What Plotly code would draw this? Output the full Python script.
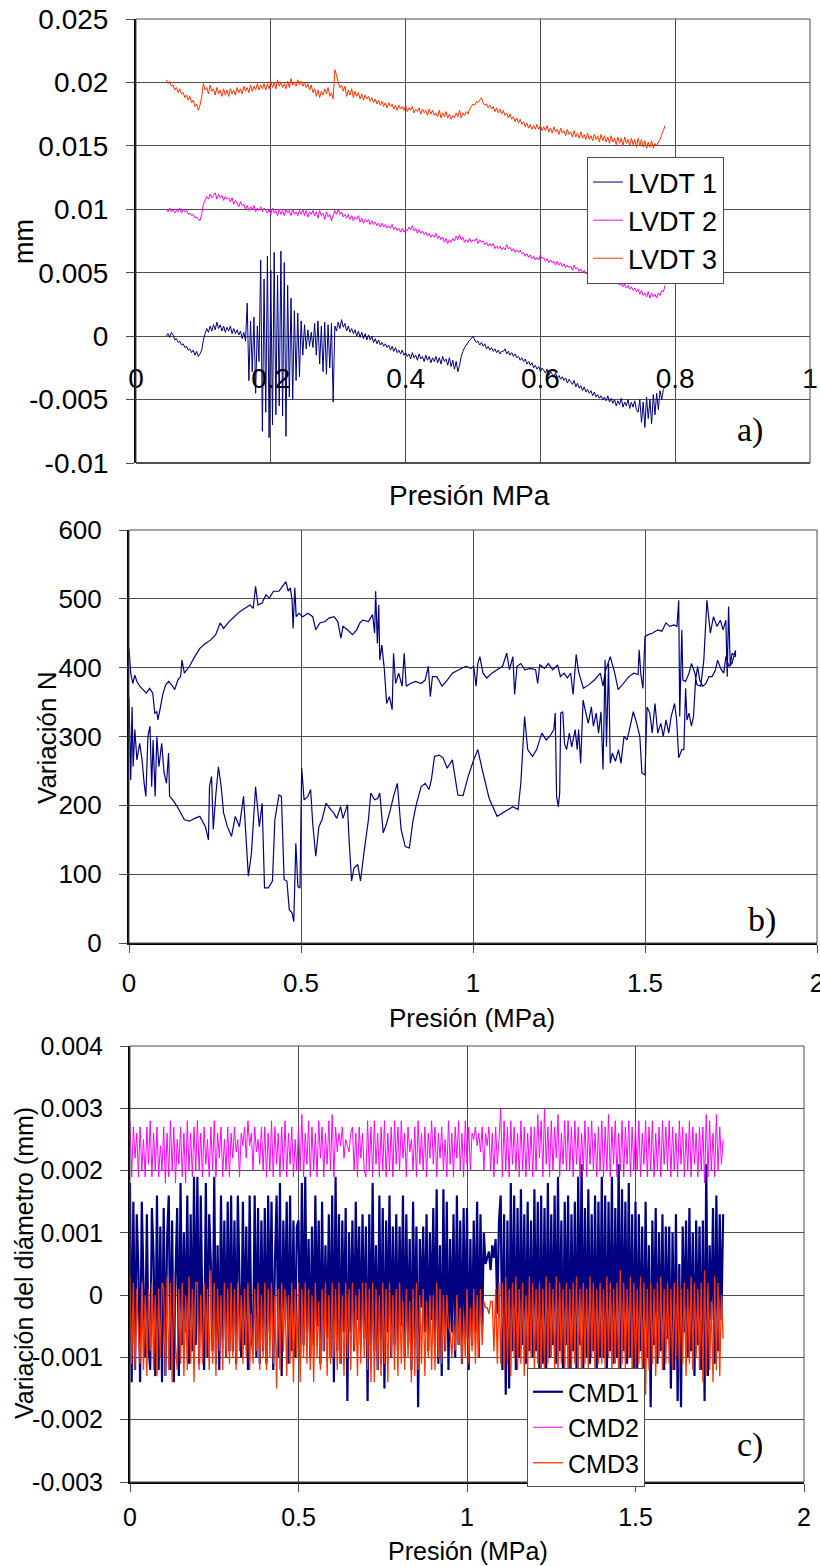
import numpy as np
import plotly.graph_objects as go

# ---------------- Panel a) LVDT displacement vs pressure (MPa); values read in micrometres ----------------
lvdt_p_start, lvdt_p_end = 0.045, 0.785
lvdt1_um = [0.0, 0.2, -0.1, 0.3, 0.1, -0.3, -0.2, -0.5, -0.4, -0.7, -0.6, -0.9, -0.8, -1.1, -1.0, -1.3, -1.1, -1.5, -1.2, -1.6,
            -1.4, -1.1, -0.3, 0.2, 0.6, 0.3, 0.8, 0.4, 0.9, 0.5, 1.1, 0.6, 0.9, 0.4, 0.8, 0.3, 0.7, 0.4, 0.8, 0.2,
            0.6, 0.2, 0.5, 0.1, 0.4, -0.2, 0.3, -0.4, 2.6, -3.5, 1.2, -2.8, 1.5, -4.5, 0.8, -2.0, 6.0, -7.5, 4.5, -6.0,
            6.3, -8.0, 5.2, -7.0, 6.6, -6.2, 4.8, -5.5, 6.7, -6.3, 5.8, -7.9, 4.0, -4.8, 3.0, -5.0, 2.0, -3.5, 1.8, -3.2,
            1.2, -1.5, 0.9, -1.0, 0.5, -0.8, 0.3, -0.9, 1.0, -1.5, 1.2, -2.2, 0.8, -2.8, 1.1, -3.0, 0.9, -2.5, 1.0, -5.2,
            0.8, 0.4, 1.1, 0.6, 1.3, 0.7, 1.0, 0.4, 0.8, 0.3, 0.6, 0.2, 0.5, 0.0, 0.4, -0.1, 0.3, -0.2, 0.2, -0.3,
            0.1, -0.3, 0.0, -0.5, -0.2, -0.6, -0.3, -0.7, -0.5, -0.8, -0.6, -0.9, -0.7, -1.1, -0.8, -1.2, -0.9, -1.3, -1.1, -1.4,
            -1.1, -1.5, -1.3, -1.6, -1.4, -1.8, -1.3, -1.7, -1.5, -1.9, -1.4, -1.8, -1.6, -2.0, -1.5, -1.9, -1.6, -2.1, -1.7, -2.0,
            -1.6, -2.1, -1.7, -2.2, -1.6, -2.0, -1.8, -2.3, -1.7, -2.4, -1.9, -2.6, -2.0, -2.8, -2.3, -1.6, -1.2, -0.9, -0.7, -0.5,
            -0.3, -0.2, 0.0, -0.3, -0.5, -0.4, -0.7, -0.5, -0.8, -0.6, -1.0, -0.8, -1.1, -0.9, -1.2, -1.0, -1.3, -1.1, -1.4, -1.2,
            -1.2, -1.0, -1.4, -1.2, -1.5, -1.3, -1.6, -1.4, -1.7, -1.6, -1.9, -1.7, -2.0, -1.8, -2.2, -2.0, -2.3, -2.1, -2.5, -2.3,
            -2.6, -2.4, -2.8, -2.5, -2.7, -2.9, -2.6, -3.1, -2.8, -3.0, -3.2, -2.9, -3.3, -3.1, -3.4, -3.2, -3.5, -3.3, -3.7, -3.4,
            -3.6, -3.8, -3.5, -4.0, -3.7, -4.1, -3.9, -4.3, -4.0, -4.4, -4.2, -4.5, -4.3, -4.7, -4.4, -4.8, -4.6, -4.9, -4.7, -5.0,
            -4.8, -5.1, -4.7, -5.2, -4.9, -5.3, -5.0, -5.5, -5.1, -5.4, -4.9, -5.6, -5.2, -5.5, -5.0, -5.7, -5.2, -5.6, -5.1, -5.8,
            -6.0, -5.0, -6.8, -5.2, -7.2, -4.8, -6.5, -5.0, -6.9, -4.6, -6.2, -4.5, -5.8, -4.3, -5.0, -4.2, -4.0]
lvdt2_um = [10.0, 9.8, 10.1, 9.8, 10.0, 9.7, 9.9, 9.8, 10.1, 9.7, 10.0, 9.8, 9.9, 9.6, 9.7, 9.5, 9.6, 9.3, 9.4, 9.2,
            9.1, 9.6, 10.4, 10.7, 11.0, 10.8, 11.2, 10.9, 11.1, 11.3, 10.8, 11.2, 10.9, 11.1, 10.7, 11.0, 10.8, 10.9, 10.6, 10.9,
            10.4, 10.7, 10.5, 10.2, 10.6, 10.3, 10.4, 10.0, 10.3, 9.9, 10.2, 10.0, 10.3, 9.8, 10.1, 9.9, 10.2, 9.8, 10.1, 9.9,
            9.7, 10.0, 9.6, 10.1, 9.7, 9.9, 9.5, 10.0, 9.6, 9.9, 9.5, 10.0, 9.7, 9.9, 9.5, 10.0, 9.6, 9.8, 9.5, 9.9,
            9.6, 10.0, 9.5, 9.9, 9.4, 9.8, 9.6, 9.9, 9.5, 9.8, 9.3, 9.9, 9.5, 9.7, 9.2, 9.8, 9.4, 9.6, 9.1, 9.5,
            9.9, 9.6, 10.0, 9.6, 9.8, 9.4, 9.6, 9.3, 9.6, 9.2, 9.5, 9.1, 9.4, 9.2, 9.5, 9.0, 9.3, 8.9, 9.2, 9.0,
            9.2, 8.8, 9.1, 8.8, 9.0, 8.7, 8.9, 8.6, 8.9, 8.6, 8.8, 8.5, 8.7, 8.5, 8.8, 8.4, 8.6, 8.3, 8.5, 8.2,
            8.5, 8.2, 8.4, 8.3, 8.6, 8.4, 8.7, 8.3, 8.5, 8.1, 8.4, 8.1, 8.3, 8.0, 8.2, 7.9, 8.1, 7.8, 8.0, 7.8,
            8.1, 7.7, 7.9, 7.6, 7.8, 7.4, 7.7, 7.3, 7.6, 7.4, 7.7, 7.5, 7.9, 7.6, 8.0, 7.6, 7.8, 7.4, 7.6, 7.4,
            7.7, 7.4, 7.6, 7.5, 7.7, 7.3, 7.6, 7.4, 7.5, 7.2, 7.4, 7.1, 7.3, 7.1, 7.3, 6.9, 7.1, 6.9, 7.1, 6.8,
            7.0, 6.8, 7.2, 6.9, 7.0, 6.7, 6.9, 6.6, 6.8, 6.6, 6.8, 6.5, 6.6, 6.3, 6.5, 6.2, 6.4, 6.1, 6.3, 6.0,
            6.2, 6.0, 6.4, 6.1, 6.2, 5.9, 6.1, 5.8, 6.0, 5.8, 5.9, 5.6, 5.9, 5.6, 5.8, 5.5, 5.7, 5.4, 5.6, 5.4,
            5.5, 5.2, 5.6, 5.3, 5.4, 5.1, 5.3, 5.0, 5.2, 4.9, 5.1, 4.8, 5.0, 4.7, 4.9, 4.6, 4.8, 4.6, 4.9, 4.5,
            4.7, 4.4, 4.6, 4.3, 4.5, 4.2, 4.4, 4.1, 4.3, 4.0, 4.2, 3.9, 4.1, 3.8, 4.0, 3.7, 3.9, 3.6, 3.8, 3.5,
            3.7, 3.3, 3.6, 3.2, 3.4, 3.1, 3.5, 3.0, 3.4, 3.1, 3.3, 3.0, 3.4, 3.2, 3.6, 3.5, 4.0]
lvdt3_um = [20.2, 19.9, 20.1, 19.7, 19.8, 19.4, 19.6, 19.2, 19.5, 19.1, 19.2, 18.8, 19.0, 18.6, 18.9, 18.4, 18.6, 18.1, 18.3, 17.8,
            18.2, 18.9, 19.9, 19.4, 19.6, 19.1, 19.8, 19.3, 19.5, 19.0, 19.6, 19.1, 19.4, 18.9, 19.5, 19.0, 19.4, 18.9, 19.5, 19.1,
            19.4, 19.0, 19.6, 19.2, 19.5, 19.1, 19.7, 19.3, 19.6, 19.2, 19.8, 19.3, 19.7, 19.4, 19.9, 19.4, 19.8, 19.5, 19.9, 19.4,
            19.9, 19.5, 20.1, 19.6, 20.0, 19.5, 20.2, 19.7, 20.0, 19.6, 19.9, 19.5, 20.1, 19.6, 20.3, 19.8, 20.0, 19.7, 20.2, 19.8,
            20.1, 19.7, 20.0, 19.6, 19.9, 19.4, 19.8, 19.2, 19.5, 18.9, 19.4, 18.8, 19.3, 19.0, 19.5, 19.1, 19.6, 18.9, 19.2, 18.7,
            21.0, 20.6, 20.0, 19.6, 19.8, 19.3, 19.7, 18.9, 19.4, 19.0, 19.5, 18.8, 19.3, 18.9, 19.2, 18.7, 19.1, 18.6, 19.0, 18.7,
            18.9, 18.5, 18.8, 18.4, 18.7, 18.3, 18.6, 18.2, 18.5, 18.1, 18.4, 18.0, 18.4, 18.1, 18.3, 17.9, 18.2, 17.8, 18.2, 17.9,
            18.1, 17.8, 18.2, 17.7, 18.0, 17.8, 18.1, 17.6, 17.9, 17.7, 18.0, 17.5, 17.9, 17.6, 17.8, 17.4, 17.9, 17.5, 17.8, 17.4,
            17.6, 17.3, 17.8, 17.2, 17.6, 17.3, 17.7, 17.2, 17.5, 17.1, 17.4, 17.2, 17.6, 17.3, 17.8, 17.2, 17.6, 17.4, 17.7, 17.5,
            17.9, 18.1, 18.3, 18.2, 18.5, 18.4, 18.6, 18.8, 18.4, 18.2, 18.3, 18.0, 18.2, 17.9, 18.1, 17.7, 18.0, 17.6, 17.9, 17.5,
            17.8, 17.4, 17.6, 17.2, 17.5, 17.1, 17.3, 16.9, 17.2, 16.8, 17.1, 16.7, 16.9, 16.5, 16.8, 16.4, 16.7, 16.3, 16.6, 16.3,
            16.7, 16.3, 16.6, 16.2, 16.5, 16.2, 16.6, 16.1, 16.4, 16.0, 16.5, 16.1, 16.3, 15.9, 16.4, 16.0, 16.2, 15.8, 16.3, 15.9,
            16.1, 15.7, 16.2, 15.7, 16.0, 15.6, 16.1, 15.6, 15.9, 15.5, 16.0, 15.5, 15.8, 15.4, 15.9, 15.5, 15.8, 15.3, 15.9, 15.4,
            15.8, 15.3, 15.7, 15.2, 15.8, 15.3, 15.6, 15.1, 15.7, 15.2, 15.6, 15.0, 15.7, 15.2, 15.5, 15.0, 15.6, 15.1, 15.5, 14.9,
            15.6, 15.0, 15.5, 14.9, 15.4, 14.8, 15.3, 14.9, 15.4, 14.8, 15.2, 15.0, 15.3, 15.5, 15.9, 16.2, 16.6]
lvdt_names = ["LVDT 1", "LVDT 2", "LVDT 3"]
a_xticks = [0, 0.2, 0.4, 0.6, 0.8, 1]
a_xtext = ["0", "0.2", "0.4", "0.6", "0.8", "1"]
a_yticks = [-0.01, -0.005, 0, 0.005, 0.01, 0.015, 0.02, 0.025]
a_ytext = ["-0.01", "-0.005", "0", "0.005", "0.01", "0.015", "0.02", "0.025"]

# ---------------- Panel b) force variation (N) vs pressure (MPa) ----------------
load_p = [0.000, 0.005, 0.009, 0.012, 0.017, 0.023, 0.031, 0.038, 0.044, 0.049,
          0.055, 0.061, 0.066, 0.070, 0.076, 0.081, 0.087, 0.095, 0.102, 0.109,
          0.115, 0.118, 0.130, 0.145, 0.161, 0.176, 0.191, 0.206, 0.222, 0.231,
          0.234, 0.240, 0.245, 0.252, 0.260, 0.268, 0.275, 0.286, 0.298, 0.309,
          0.321, 0.333, 0.347, 0.356, 0.368, 0.379, 0.387, 0.394, 0.405, 0.417,
          0.424, 0.436, 0.443, 0.451, 0.459, 0.466, 0.474, 0.479, 0.485, 0.491,
          0.497, 0.502, 0.509, 0.520, 0.528, 0.534, 0.543, 0.552, 0.561, 0.573,
          0.586, 0.595, 0.604, 0.615, 0.622, 0.635, 0.639, 0.647, 0.654, 0.665,
          0.673, 0.683, 0.696, 0.703, 0.714, 0.723, 0.729, 0.739, 0.749, 0.760,
          0.769, 0.780, 0.791, 0.803, 0.815, 0.826, 0.836, 0.849, 0.861, 0.872,
          0.879, 0.888, 0.902, 0.913, 0.925, 0.940, 0.956, 0.971, 0.986, 1.002,
          1.014, 1.029, 1.047, 1.070, 1.093, 1.116, 1.131, 1.139, 1.150, 1.159,
          1.173, 1.185, 1.200, 1.213, 1.223, 1.235, 1.239, 1.243, 1.248, 1.252,
          1.255, 1.261, 1.266, 1.272, 1.280, 1.287, 1.297, 1.303, 1.307, 1.313,
          1.320, 1.326, 1.335, 1.344, 1.350, 1.358, 1.365, 1.372, 1.378, 1.384,
          1.388, 1.394, 1.399, 1.405, 1.414, 1.423, 1.430, 1.439, 1.448, 1.457,
          1.466, 1.476, 1.485, 1.491, 1.500, 1.506, 1.514, 1.521, 1.529, 1.537,
          1.546, 1.553, 1.561, 1.569, 1.576, 1.586, 1.592, 1.598, 1.607, 1.613,
          1.618, 1.622, 1.628, 1.635, 1.641, 1.647, 1.653, 1.659, 1.668, 1.677,
          1.686, 1.695, 1.705, 1.711, 1.720, 1.729, 1.735, 1.744, 1.753, 1.758,
          1.763]
load_n = [356, 237, 343, 256, 310, 266, 290, 266, 232, 213,
          300, 315, 227, 295, 213, 300, 256, 290, 247, 232,
          276, 213, 206, 194, 179, 177, 181, 184, 169, 150,
          227, 242, 165, 213, 256, 227, 189, 169, 155, 184,
          169, 213, 97, 131, 227, 169, 203, 80, 80, 90,
          179, 215, 213, 92, 90, 48, 44, 31, 145, 82,
          80, 254, 208, 213, 223, 174, 126, 169, 179, 203,
          194, 189, 181, 198, 181, 201, 157, 90, 109, 114,
          90, 131, 179, 218, 208, 210, 218, 160, 174, 194,
          213, 232, 165, 140, 138, 179, 203, 227, 232, 223,
          237, 271, 273, 269, 254, 266, 215, 214, 242, 266,
          281, 247, 210, 184, 191, 198, 194, 232, 329, 281,
          271, 281, 305, 295, 300, 310, 334, 213, 198, 218,
          334, 336, 290, 281, 305, 285, 310, 281, 310, 261,
          353, 339, 319, 343, 315, 334, 305, 336, 252, 411,
          285, 406, 261, 276, 264, 281, 261, 300, 295, 315,
          336, 319, 300, 247, 244, 343, 334, 305, 348, 305,
          319, 300, 324, 305, 329, 348, 324, 269, 281, 281,
          370, 324, 334, 315, 329, 382, 402, 382, 373, 377,
          387, 387, 397, 411, 399, 392, 416, 402, 406, 416,
          425]
unload_p = [0.000, 0.005, 0.011, 0.017, 0.023, 0.031, 0.041, 0.050, 0.060, 0.069,
            0.075, 0.081, 0.084, 0.092, 0.099, 0.107, 0.115, 0.124, 0.133, 0.142,
            0.150, 0.154, 0.161, 0.176, 0.191, 0.206, 0.222, 0.237, 0.252, 0.265,
            0.275, 0.291, 0.306, 0.321, 0.336, 0.352, 0.361, 0.368, 0.375, 0.387,
            0.398, 0.408, 0.420, 0.436, 0.446, 0.456, 0.463, 0.469, 0.474, 0.477,
            0.482, 0.486, 0.494, 0.505, 0.520, 0.534, 0.543, 0.555, 0.570, 0.581,
            0.596, 0.607, 0.616, 0.622, 0.635, 0.650, 0.662, 0.671, 0.680, 0.696,
            0.708, 0.714, 0.717, 0.722, 0.726, 0.729, 0.735, 0.742, 0.749, 0.757,
            0.765, 0.769, 0.775, 0.784, 0.794, 0.800, 0.806, 0.818, 0.833, 0.849,
            0.861, 0.870, 0.876, 0.882, 0.895, 0.910, 0.925, 0.940, 0.959, 0.979,
            0.994, 1.002, 1.009, 1.014, 1.020, 1.029, 1.040, 1.055, 1.070, 1.086,
            1.098, 1.106, 1.116, 1.121, 1.128, 1.139, 1.151, 1.167, 1.182, 1.188,
            1.194, 1.208, 1.219, 1.232, 1.246, 1.254, 1.265, 1.274, 1.284, 1.291,
            1.300, 1.307, 1.321, 1.336, 1.353, 1.370, 1.378, 1.384, 1.391, 1.399,
            1.412, 1.422, 1.437, 1.453, 1.468, 1.480, 1.483, 1.488, 1.494, 1.500,
            1.509, 1.521, 1.537, 1.549, 1.561, 1.572, 1.584, 1.593, 1.598, 1.601,
            1.607, 1.610, 1.618, 1.628, 1.635, 1.645, 1.651, 1.662, 1.671, 1.680,
            1.690, 1.699, 1.709, 1.719, 1.727, 1.735, 1.739, 1.743, 1.748, 1.753,
            1.763]
unload_n = [428, 392, 377, 389, 380, 373, 368, 363, 370, 363,
            334, 336, 324, 344, 363, 375, 380, 375, 368, 382,
            387, 411, 392, 402, 416, 428, 435, 440, 448, 465,
            457, 467, 474, 481, 486, 491, 486, 518, 491, 494,
            506, 501, 511, 511, 518, 525, 511, 516, 498, 457,
            516, 474, 479, 474, 479, 474, 455, 465, 467, 472,
            474, 467, 443, 460, 455, 448, 455, 465, 469, 467,
            477, 450, 511, 435, 491, 411, 433, 399, 348, 358,
            339, 421, 377, 392, 373, 421, 373, 377, 380, 377,
            382, 402, 358, 387, 387, 373, 382, 392, 397, 402,
            399, 402, 373, 406, 416, 392, 385, 392, 397, 402,
            421, 397, 416, 361, 402, 406, 397, 399, 397, 377,
            404, 399, 406, 397, 404, 387, 392, 385, 392, 361,
            419, 394, 370, 375, 382, 392, 373, 394, 404, 416,
            392, 368, 377, 387, 392, 390, 426, 390, 370, 445,
            448, 450, 455, 453, 465, 460, 462, 460, 498, 329,
            455, 382, 380, 392, 406, 392, 375, 373, 411, 498,
            450, 474, 460, 469, 455, 469, 387, 489, 402, 421,
            416]
b_xticks = [0, 0.5, 1, 1.5, 2]
b_xtext = ["0", "0.5", "1", "1.5", "2"]
b_yticks = [0, 100, 200, 300, 400, 500, 600]
b_ytext = ["0", "100", "200", "300", "400", "500", "600"]

# ---------------- Panel c) diameter variation vs pressure (MPa); values read in micrometres ----------------
cmd_p_start, cmd_p_end = 0.0, 1.76
cmd1_um = [1.8, -1.4, 1.5, -1.2, 1.3, 0.4, -1.4, 1.5, 0.2, -1.0, 1.3, -0.8, -1.2, 1.4, 0.6, -1.3, 1.6, -1.2, 1.1, -1.4,
           1.4, -1.3, 0.9, 1.6, -1.2, 1.2, -1.4, 0.3, 1.4, -1.3, 1.8, -0.8, 1.0, -0.6, 1.6, -1.1, 1.3, -0.9, 1.9, -0.8,
           1.9, -1.1, 1.6, -0.4, -1.2, 1.8, -1.0, 1.3, 0.5, -0.9, 1.9, -1.1, 0.8, -1.2, 1.6, -0.7, 1.2, -1.0, 1.5, -0.9,
           1.6, -0.9, 1.2, -1.1, 1.6, 0.2, -1.0, 1.5, -0.8, 1.1, -1.2, 1.6, -0.6, -0.9, 1.6, -1.0, 1.4, -1.1, 1.2, -0.9,
           1.4, -1.1, 1.6, -0.6, 1.5, -1.2, 0.5, 1.6, -1.0, 1.8, -1.3, 1.2, -0.4, 1.5, -1.1, 1.6, -0.9, 1.2, -1.0, 1.1,
           1.2, -1.0, 1.8, -0.8, 1.9, -0.6, 0.9, -1.0, 1.1, -0.8, 1.6, -0.5, 1.2, -1.1, 1.5, -0.9, 0.8, -0.7, 1.3, -1.0,
           1.6, -1.4, 1.9, -0.9, 1.3, -1.1, 1.2, -0.6, 1.4, -1.7, 1.0, -0.6, 1.2, -0.9, 1.5, -0.4, 1.1, -0.8, 1.3, -0.7,
           1.1, -1.7, 1.3, -1.0, 1.8, -0.9, 0.8, -1.2, 1.6, -1.1, 1.4, -1.5, 1.2, -0.6, 1.6, -1.0, 1.1, -0.8, 1.3, -0.9,
           1.1, -0.5, 1.6, -1.0, 1.3, -0.8, 0.9, -1.2, 1.5, -0.7, 1.1, -1.8, 0.9, -0.2, 1.1, -0.6, 1.3, -0.9, 1.0, -0.4,
           1.4, -0.8, 1.7, -1.1, 0.8, -1.3, 1.7, -0.9, 1.5, -1.2, 0.9, -0.6, 1.3, -1.0, 1.6, -0.8, 1.2, -1.1, 1.4, -0.7,
           1.4, -1.2, 0.9, -0.8, 1.2, -0.6, 1.5, -1.0, 1.3, -0.5, 1.0, 0.5, 0.6, 0.7, 0.4, 0.8, 0.6, 0.9, -0.3, 1.2,
           1.6, -1.2, 1.3, -1.6, 1.2, -1.5, 1.8, -0.9, 1.6, -1.2, 1.4, -1.0, 1.7, -0.8, 1.3, -1.1, 1.5, -0.9, 1.2, -1.0,
           1.7, -0.9, 1.5, -1.3, 1.6, -1.1, 1.4, -1.2, 1.8, -1.0, 1.3, -0.8, 1.6, -1.1, 1.9, -0.9, 1.2, -1.3, 1.5, -0.8,
           1.6, -1.2, 1.3, -0.9, 1.5, -1.3, 1.9, -0.8, 2.1, -1.2, 1.4, -1.0, 1.7, -1.1, 1.3, -0.9, 1.6, -1.2, 1.5, -1.0,
           1.9, -1.0, 1.6, -1.3, 1.5, -0.9, 1.9, -1.1, 1.4, -1.0, 2.1, -1.2, 1.7, -0.9, 1.5, -1.1, 1.8, -1.0, 1.3, -1.2,
           1.5, -1.2, 1.3, -0.9, 1.1, -1.3, 1.5, -1.0, 0.8, -1.8, 1.2, -0.8, 1.4, -1.1, 1.0, -0.9, 1.3, -1.2, 1.1, -0.7,
           1.1, -1.5, 1.0, -1.2, 1.3, -1.7, 0.5, -1.8, 1.1, -0.6, 1.2, -1.0, 1.4, -0.9, 1.0, -1.3, 1.2, -0.8, 1.1, -1.2,
           1.2, -1.7, 2.1, -1.3, 0.8, -0.4, 1.4, -1.1, 1.6, -0.9, 1.3, -0.4, 1.3]
cmd2_um = [2.8, 1.9, 2.7, 2.2, 2.6, 1.9, 2.7, 2.0, 2.5, 1.9, 2.7, 2.1, 2.8, 1.9, 2.6, 2.0, 2.7, 1.9, 2.4, 2.0,
           2.7, 1.8, 2.6, 1.9, 2.8, 2.0, 2.7, 1.8, 2.5, 2.1, 2.7, 1.9, 2.6, 1.8, 2.8, 2.0, 2.6, 1.9, 2.7, 2.0,
           2.8, 2.0, 2.6, 1.9, 2.7, 2.1, 2.5, 1.9, 2.7, 2.0, 2.8, 1.9, 2.6, 2.2, 2.7, 1.9, 2.5, 2.0, 2.7, 1.9,
           2.6, 2.2, 2.7, 2.3, 2.5, 1.9, 2.6, 2.4, 2.7, 2.2, 2.8, 2.4, 2.6, 2.0, 2.7, 2.3, 2.5, 2.1, 2.7, 2.0,
           2.7, 1.9, 2.6, 2.0, 2.8, 1.9, 2.7, 2.1, 2.6, 1.9, 2.7, 2.0, 2.8, 1.9, 2.6, 2.1, 2.7, 1.9, 2.5, 2.0,
           2.7, 2.0, 2.9, 1.9, 2.6, 2.1, 2.8, 1.9, 2.7, 2.0, 2.6, 1.9, 2.8, 2.2, 2.7, 1.9, 2.6, 2.1, 2.8, 2.0,
           2.9, 1.9, 2.7, 2.3, 2.6, 2.4, 2.7, 2.2, 2.5, 2.4, 2.3, 2.6, 2.7, 2.0, 2.6, 1.9, 2.7, 2.2, 2.6, 2.0,
           1.9, 2.8, 2.0, 2.7, 1.9, 2.8, 2.1, 2.6, 1.9, 2.7, 2.0, 2.8, 1.9, 2.6, 2.0, 2.7, 1.9, 2.8, 2.1, 2.7,
           2.0, 2.8, 2.2, 2.6, 1.9, 2.7, 2.3, 2.5, 2.0, 2.7, 1.9, 2.8, 2.1, 2.6, 2.0, 2.7, 1.9, 2.6, 2.2, 2.8,
           2.1, 2.7, 1.9, 2.6, 2.2, 2.7, 2.0, 2.5, 1.9, 2.8, 2.1, 2.6, 1.9, 2.7, 2.2, 2.8, 2.0, 2.6, 1.9, 2.8,
           2.1, 2.7, 2.0, 2.6, 2.5, 2.7, 2.4, 2.6, 2.3, 2.7, 2.0, 2.6, 2.4, 2.7, 2.0, 2.6, 1.9, 2.7, 2.1, 2.5,
           3.0, 1.9, 2.8, 2.0, 2.7, 1.9, 2.8, 2.1, 2.7, 2.0, 2.6, 1.9, 2.8, 2.0, 2.7, 1.9, 2.6, 2.0, 2.7, 1.9,
           2.7, 2.0, 2.9, 2.2, 2.8, 1.9, 3.0, 2.1, 2.7, 1.9, 2.8, 2.0, 2.7, 2.2, 2.9, 1.9, 2.6, 2.1, 2.8, 2.0,
           2.8, 2.0, 2.7, 1.9, 2.8, 2.1, 2.7, 1.9, 2.6, 2.0, 2.8, 1.9, 2.7, 2.1, 2.8, 2.0, 2.6, 1.9, 2.7, 2.0,
           2.8, 1.9, 2.7, 2.0, 2.9, 1.9, 2.7, 2.1, 2.8, 1.9, 2.6, 2.0, 2.8, 1.9, 2.7, 2.1, 2.8, 1.9, 2.7, 2.0,
           2.7, 2.0, 2.8, 1.9, 2.6, 2.1, 2.8, 1.9, 2.7, 2.0, 2.8, 1.9, 2.6, 2.0, 2.7, 1.9, 2.8, 2.1, 2.7, 2.0,
           2.8, 1.9, 2.7, 2.0, 2.6, 1.9, 2.8, 2.1, 2.7, 1.9, 2.6, 2.0, 2.8, 1.9, 2.7, 2.1, 2.6, 1.9, 2.7, 2.0,
           2.7, 1.8, 2.9, 1.9, 2.8, 2.0, 2.6, 1.9, 2.9, 2.0, 2.7, 2.1, 2.5]
cmd3_um = [0.3, -1.1, 0.2, -1.2, 0.1, -0.6, -1.1, 0.2, -1.2, 0.0, -1.3, 0.1, -0.9, 0.2, -1.2, 0.0, -1.3, 0.1, -1.0, 0.2,
           0.1, -1.3, 0.3, -1.2, 0.2, -1.4, 0.3, -0.8, -1.2, 0.1, -1.1, 0.2, -1.3, 0.0, -1.2, 0.3, -1.1, 0.1, -1.4, 0.2,
           0.2, -1.2, 0.0, -1.1, 0.2, -1.0, 0.1, -1.2, 0.4, -1.1, 0.2, -1.3, 0.1, -0.9, 0.0, -1.2, 0.2, -1.0, 0.1, -1.1,
           0.2, -1.0, 0.1, -1.2, 0.2, -0.9, 0.0, -1.1, 0.1, -1.0, 0.2, -1.2, -0.3, -1.1, 0.1, -0.9, 0.2, -1.2, 0.0, -1.0,
           0.2, -1.2, 0.1, -1.0, 0.2, -1.1, 0.0, -1.5, 0.1, -1.2, 0.2, -0.9, 0.1, -1.3, 0.0, -1.1, 0.2, -1.4, 0.1, -1.0,
           0.2, -1.4, 0.1, -1.0, 0.2, -1.1, 0.1, -1.2, 0.0, -1.4, 0.2, -1.0, -0.1, -1.2, 0.1, -0.9, 0.2, -1.3, 0.0, -1.1,
           0.2, -1.0, 0.1, -1.2, 0.2, -1.1, 0.0, -1.3, 0.2, -1.0, 0.1, -1.2, 0.2, -0.9, 0.0, -1.3, 0.1, -1.1, 0.2, -1.0,
           0.2, -1.2, 0.1, -1.4, 0.2, -1.4, 0.1, -1.2, 0.0, -1.3, 0.2, -1.1, 0.1, -1.4, 0.2, -1.0, 0.0, -1.2, 0.1, -1.3,
           0.2, -1.1, -0.1, -1.2, 0.1, -1.0, -0.1, -1.4, 0.1, -1.3, 0.2, -1.2, 0.0, -1.1, 0.1, -1.3, -0.1, -1.0, 0.0, -1.2,
           0.0, -1.2, 0.2, -1.0, 0.1, -1.1, 0.0, -0.9, 0.0, -0.5, -0.6, -1.0, -0.4, -0.9, 0.0, -0.8, -0.2, -1.1, -0.3, -1.0,
           0.1, -1.1, -0.2, -0.9, 0.1, -1.1, 0.0, -1.0, 0.1, -0.8, -0.1, -0.2, -0.2, -0.3, -0.1, -0.1, -0.9, 0.1, -1.1, 0.2,
           -1.1, 0.2, -1.2, 0.3, -1.1, 0.1, -1.3, 0.2, -1.0, 0.3, -1.2, 0.1, -1.1, 0.2, -1.3, 0.0, -1.2, 0.3, -1.0, 0.2,
           -1.2, 0.1, -1.1, 0.2, -1.3, 0.1, -1.2, 0.3, -1.1, 0.2, -1.0, 0.1, -1.2, 0.3, -1.3, 0.2, -1.1, 0.1, -1.2, 0.2,
           -1.3, 0.1, -1.2, 0.2, -1.1, 0.3, -1.2, 0.1, -1.3, 0.2, -1.1, 0.1, -1.2, 0.3, -1.0, 0.2, -1.3, 0.1, -1.1, 0.2,
           -1.1, 0.1, -1.2, 0.3, -1.0, 0.2, -1.2, 0.1, -1.1, 0.2, -1.3, 0.4, -1.1, 0.2, -1.2, 0.1, -1.0, 0.3, -1.2, 0.2,
           -1.2, 0.1, -1.1, 0.3, -1.3, 0.2, -1.6, 0.1, -1.2, 0.2, -1.1, 0.1, -1.3, 0.2, -1.0, 0.3, -1.2, 0.1, -1.1, 0.2,
           -1.1, 0.1, -1.2, 0.2, -1.0, 0.3, -1.2, 0.1, -1.1, 0.2, -1.3, 0.1, -1.1, 0.3, -1.2, 0.2, -1.0, 0.1, -1.2, 0.2,
           -1.4, 0.4, -1.3, 0.2, -1.2, -0.1, -1.4, 0.3, -1.2, 0.2, -1.3, 0.0, -0.7]
cmd_names = ["CMD1", "CMD2", "CMD3"]
c_yticks = [-0.003, -0.002, -0.001, 0, 0.001, 0.002, 0.003, 0.004]
c_ytext = ["-0.003", "-0.002", "-0.001", "0", "0.001", "0.002", "0.003", "0.004"]

# ---------------- Figure ----------------
W, H = 820, 1566
FONT = "Liberation Sans, Arial, sans-serif"
SERIF = "Liberation Serif, Times New Roman, serif"
NAVY, MAGENTA, ORANGE = "#000080", "#FF00FF", "#FF3300"
GRID = "#4d4d4d"


def px_x(p):
    return p / W


def px_y(p):
    return 1 - p / H


fig = go.Figure()

for vals, name, col in zip([lvdt1_um, lvdt2_um, lvdt3_um], lvdt_names, [NAVY, MAGENTA, ORANGE]):
    p_a = np.linspace(lvdt_p_start, lvdt_p_end, len(vals))
    fig.add_trace(go.Scatter(x=p_a, y=np.array(vals) / 1000.0, mode="lines", name=name,
                             line=dict(color=col, width=1, simplify=False),
                             xaxis="x", yaxis="y", legend="legend"))

fig.add_trace(go.Scatter(x=load_p + unload_p[::-1], y=load_n + unload_n[::-1], mode="lines",
                         line=dict(color=NAVY, width=1.2, simplify=False),
                         showlegend=False, xaxis="x2", yaxis="y2"))

for vals, name, col, w in zip([cmd1_um, cmd2_um, cmd3_um], cmd_names, [NAVY, MAGENTA, ORANGE], [2.2, 1, 1.3]):
    p_c = np.linspace(cmd_p_start, cmd_p_end, len(vals))
    fig.add_trace(go.Scatter(x=p_c, y=np.array(vals) / 1000.0, mode="lines", name=name,
                             line=dict(color=col, width=w, simplify=False),
                             xaxis="x3", yaxis="y3", legend="legend2"))

common_y = dict(showgrid=True, gridcolor=GRID, gridwidth=1, zeroline=False,
                ticks="outside", ticklen=8, tickcolor=GRID, tickwidth=1,
                showline=True, linecolor="black", linewidth=2, tickmode="array",
                ticklabelstandoff=12)
common_x = dict(showgrid=True, gridcolor=GRID, gridwidth=1, zeroline=False, tickmode="array",
                ticklabeloverflow="allow")

fig.update_layout(
    width=W, height=H, margin=dict(l=0, r=0, t=0, b=0),
    paper_bgcolor="white", plot_bgcolor="white", template="none",
    font=dict(family=FONT, color="black"),
    xaxis=dict(common_x, domain=[px_x(136), px_x(810)], range=[0, 1],
               tickvals=a_xticks, ticktext=a_xtext, anchor="free", position=px_y(337),
               showline=False, ticks="", tickfont=dict(size=28), ticklabelstandoff=22),
    yaxis=dict(common_y, domain=[px_y(463), px_y(19)], range=[-0.01, 0.025], anchor="x",
               tickvals=a_yticks, ticktext=a_ytext, tickfont=dict(size=28)),
    xaxis2=dict(common_x, domain=[px_x(129), px_x(817)], range=[0, 2], anchor="y2",
                tickvals=b_xticks, ticktext=b_xtext, showline=True, linecolor="black", linewidth=2,
                ticks="outside", ticklen=8, tickcolor=GRID, tickfont=dict(size=26),
                ticklabelposition="outside", ticklabelstandoff=8),
    yaxis2=dict(common_y, domain=[px_y(943), px_y(530)], range=[0, 600], anchor="x2",
                tickvals=b_yticks, ticktext=b_ytext, tickfont=dict(size=26)),
    xaxis3=dict(common_x, domain=[px_x(130), px_x(804)], range=[0, 2], anchor="y3",
                tickvals=b_xticks, ticktext=b_xtext, showline=True, linecolor="black", linewidth=2,
                ticks="outside", ticklen=8, tickcolor=GRID, tickfont=dict(size=25),
                ticklabelposition="outside", ticklabelstandoff=4),
    yaxis3=dict(common_y, domain=[px_y(1482), px_y(1046)], range=[-0.003, 0.004], anchor="x3",
                tickvals=c_yticks, ticktext=c_ytext, tickfont=dict(size=25)),
    legend=dict(x=px_x(587), y=px_y(157), xanchor="left", yanchor="top",
                bgcolor="white", bordercolor=GRID, borderwidth=1,
                font=dict(family=FONT, size=27), tracegroupgap=0, itemwidth=30),
    legend2=dict(x=px_x(527), y=px_y(1368), xanchor="left", yanchor="top",
                 bgcolor="white", bordercolor=GRID, borderwidth=1,
                 font=dict(family=FONT, size=25), tracegroupgap=0, itemwidth=30),
)

# plot-area frames
for xr, yr in [("x", "y"), ("x2", "y2"), ("x3", "y3")]:
    fig.add_shape(type="rect", xref=f"{xr} domain", yref=f"{yr} domain", x0=0, x1=1, y0=0, y1=1,
                  line=dict(color=GRID, width=1), layer="above")
fig.add_shape(type="line", xref="x domain", yref="y domain", x0=0, x1=1, y0=0, y1=0,
              line=dict(color=GRID, width=2), layer="above")

annotations = [
    ("Presión MPa", 470, 495, 28, 0, FONT),
    ("mm", 24, 242, 27, -90, FONT),
    ("a)", 750, 430, 34, 0, SERIF),
    ("Presión (MPa)", 472, 1018, 26, 0, FONT),
    ("Variación N", 47, 738, 26, -90, FONT),
    ("b)", 762, 920, 34, 0, SERIF),
    ("Presión (MPa)", 468, 1551, 25, 0, FONT),
    ("Variación del diámetro (mm)", 24, 1263, 25, -90, FONT),
    ("c)", 750, 1445, 34, 0, SERIF),
]
for text, ax_, ay_, size, ang, fam in annotations:
    fig.add_annotation(text=text, x=px_x(ax_), y=px_y(ay_), xref="paper", yref="paper",
                       showarrow=False, xanchor="center", yanchor="middle", textangle=ang,
                       font=dict(family=fam, size=size, color="black"))

fig.write_html("out.html", config={"displayModeBar": False},
               post_script="document.body.style.margin='0px';"
                           "document.documentElement.style.overflow='hidden';")
